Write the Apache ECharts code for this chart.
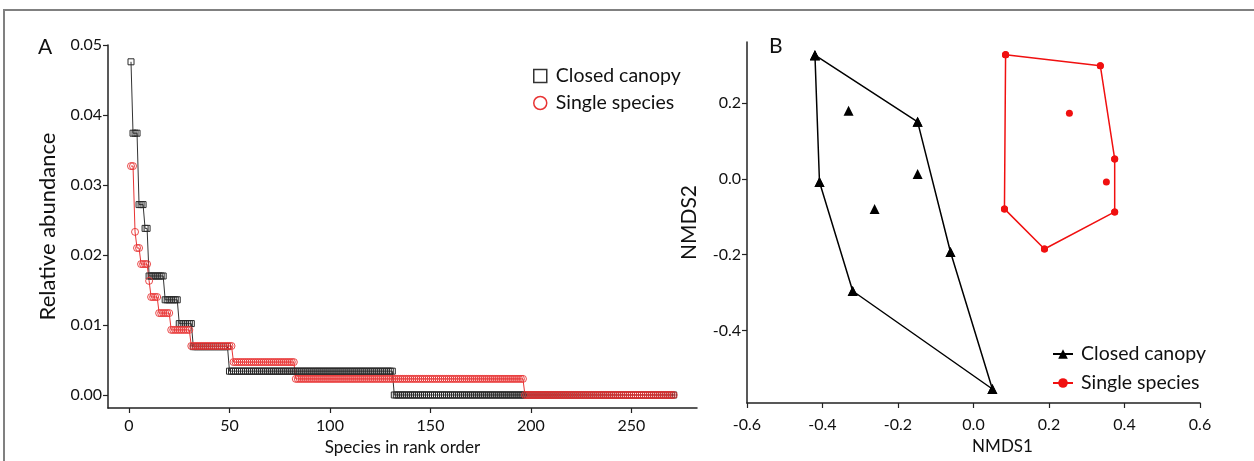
<!DOCTYPE html>
<html><head><meta charset="utf-8">
<script src="https://cdn.jsdelivr.net/npm/echarts@6/dist/echarts.min.js"></script>
<style>html,body{margin:0;padding:0;background:#fff}#c{width:1254px;height:461px}</style>
</head><body><div id="c"></div>
<script>
const FONT = 'Lato';
// ---- Panel A: rank-abundance curves (abundance of each run of equal values, and last rank in that run)
const closedLevels   = [0.0476, 0.0374, 0.0272, 0.0238, 0.0170, 0.0136, 0.0102, 0.0069, 0.0034, 0.0000];
const closedRankEnds = [1, 4, 7, 9, 17, 24, 31, 49, 131, 271];
const singleLevels   = [0.0327, 0.0233, 0.0210, 0.0187, 0.0163, 0.0140, 0.0117, 0.0093, 0.0070, 0.0047, 0.0023, 0.0000];
const singleRankEnds = [2, 3, 5, 9, 10, 14, 20, 30, 51, 82, 196, 271];
const rankTicks = [0, 50, 100, 150, 200, 250];
const abundanceTicks = [0, 0.01, 0.02, 0.03, 0.04, 0.05];
// ---- Panel B: NMDS ordination
const closedNMDS = [[-0.420, 0.327], [-0.331, 0.180], [-0.148, 0.151], [-0.408, -0.008], [-0.148, 0.013],
                    [-0.262, -0.079], [-0.061, -0.193], [-0.320, -0.296], [0.050, -0.555]];
const closedHullOrder = [0, 2, 6, 8, 7, 3, 0];
const singleNMDS = [[0.085, 0.328], [0.336, 0.299], [0.254, 0.174], [0.374, 0.053], [0.352, -0.008],
                    [0.374, -0.087], [0.082, -0.079], [0.188, -0.185]];
const singleHullOrder = [0, 1, 3, 5, 7, 6, 0];
const nmds2Ticks = [-0.4, -0.2, 0, 0.2];

function expandRuns(levels, ends) {
  const out = []; let r = 1;
  levels.forEach((v, i) => { for (; r <= ends[i]; r++) out.push([r, v]); });
  return out;
}
const closedRank = expandRuns(closedLevels, closedRankEnds);
const singleRank = expandRuns(singleLevels, singleRankEnds);
const closedHull = closedHullOrder.map(i => closedNMDS[i]);
const singleHull = singleHullOrder.map(i => singleNMDS[i]);

const RED_A = '#e83434', RED_B = '#f01010', INK = '#111';
const lab = (extra) => Object.assign({ fontFamily: FONT, fontSize: 16, color: INK }, extra || {});
const axLine = { onZero: false, lineStyle: { color: '#222', width: 1.5 } };
const tick = (vals) => Object.assign({ length: 5, lineStyle: { color: '#222', width: 1.2 } }, vals ? { customValues: vals } : {});

const chart = echarts.init(document.getElementById('c'), null, { renderer: 'canvas' });
chart.setOption({
  animation: false,
  backgroundColor: '#fff',
  textStyle: { fontFamily: FONT },
  grid: [
    { left: 108, top: 45, width: 589, height: 363 },
    { left: 747, top: 42, width: 453, height: 361 }
  ],
  xAxis: [
    { type: 'value', gridIndex: 0, min: -10.45, max: 282.6,
      axisLine: axLine, axisTick: tick(rankTicks), splitLine: { show: false },
      axisLabel: lab({ customValues: rankTicks, margin: 10 }),
      name: 'Species in rank order', nameLocation: 'middle', nameGap: 29,
      nameTextStyle: lab({ fontSize: 17 }) },
    { type: 'value', gridIndex: 1, min: -0.6, max: 0.6, interval: 0.2,
      axisLine: axLine, axisTick: tick(), splitLine: { show: false },
      axisLabel: lab({ margin: 14, formatter: v => v.toFixed(1) }),
      name: 'NMDS1', nameLocation: 'middle', nameGap: 35,
      nameTextStyle: lab({ fontSize: 17, padding: [0, 0, 0, 58] }) }
  ],
  yAxis: [
    { type: 'value', gridIndex: 0, min: -0.00186, max: 0.05,
      axisLine: axLine, axisTick: tick(abundanceTicks), splitLine: { show: false },
      axisLabel: lab({ customValues: abundanceTicks, margin: 6, formatter: v => v.toFixed(2) }),
      name: 'Relative abundance', nameLocation: 'middle', nameGap: 49,
      nameTextStyle: lab({ fontSize: 22 }) },
    { type: 'value', gridIndex: 1, min: -0.592, max: 0.362,
      axisLine: axLine, axisTick: tick(nmds2Ticks), splitLine: { show: false },
      axisLabel: lab({ customValues: nmds2Ticks, margin: 6, formatter: v => v.toFixed(1) }),
      name: 'NMDS2', nameLocation: 'middle', nameGap: 47,
      nameTextStyle: lab({ fontSize: 21 }) }
  ],
  legend: [
    { orient: 'vertical', left: 528, top: 61, itemWidth: 13, itemHeight: 13, itemGap: 7,
      textStyle: lab({ fontSize: 19.5, padding: [0, 0, 0, 4] }), selectedMode: false,
      data: [
        { name: 'Closed canopy', icon: 'rect', itemStyle: { color: 'rgba(0,0,0,0)', borderColor: '#333', borderWidth: 1.5 } },
        { name: 'Single species', icon: 'circle', itemStyle: { color: 'rgba(0,0,0,0)', borderColor: RED_A, borderWidth: 1.5 } }
      ] },
    { orient: 'vertical', left: 1047, top: 339, itemWidth: 20, itemHeight: 12, itemGap: 9,
      textStyle: lab({ fontSize: 19.5, padding: [0, 0, 0, 3] }), selectedMode: false,
      formatter: n => n.replace(' (B)', ''),
      data: ['Closed canopy (B)', 'Single species (B)'] }
  ],
  graphic: [
    { type: 'rect', shape: { x: 4, y: 10, width: 1300, height: 500 }, style: { fill: 'none', stroke: '#808080', lineWidth: 2 }, silent: true },
    { type: 'text', left: 38, top: 37, style: { text: 'A', font: '21px ' + FONT, fill: INK } },
    { type: 'text', left: 769, top: 36, style: { text: 'B', font: '21px ' + FONT, fill: INK } }
  ],
  series: [
    { name: 'Closed canopy', type: 'line', xAxisIndex: 0, yAxisIndex: 0, data: closedRank,
      symbol: 'rect', symbolSize: 6, showAllSymbol: true,
      itemStyle: { color: 'rgba(0,0,0,0)', borderColor: '#2a2a2a', borderWidth: 1 },
      lineStyle: { color: '#333', width: 1 }, emphasis: { disabled: true } },
    { name: 'Single species', type: 'line', xAxisIndex: 0, yAxisIndex: 0, data: singleRank,
      symbol: 'circle', symbolSize: 7, showAllSymbol: true,
      itemStyle: { color: 'rgba(0,0,0,0)', borderColor: RED_A, borderWidth: 0.9 },
      lineStyle: { color: RED_A, width: 1 }, emphasis: { disabled: true } },
    { name: 'Closed canopy (B)', type: 'line', xAxisIndex: 1, yAxisIndex: 1, data: closedHull,
      symbol: 'triangle', symbolSize: 10, showAllSymbol: true,
      itemStyle: { color: '#000' }, lineStyle: { color: '#000', width: 1.5 }, emphasis: { disabled: true } },
    { name: 'closed points', type: 'scatter', xAxisIndex: 1, yAxisIndex: 1, data: closedNMDS,
      symbol: 'triangle', symbolSize: 10, itemStyle: { color: '#000', opacity: 1 }, emphasis: { disabled: true } },
    { name: 'Single species (B)', type: 'line', xAxisIndex: 1, yAxisIndex: 1, data: singleHull,
      symbol: 'circle', symbolSize: 7, showAllSymbol: true,
      itemStyle: { color: RED_B }, lineStyle: { color: RED_B, width: 1.5 }, emphasis: { disabled: true } },
    { name: 'single points', type: 'scatter', xAxisIndex: 1, yAxisIndex: 1, data: singleNMDS,
      symbol: 'circle', symbolSize: 7, itemStyle: { color: RED_B, opacity: 1 }, emphasis: { disabled: true } }
  ]
});
</script></body></html>
